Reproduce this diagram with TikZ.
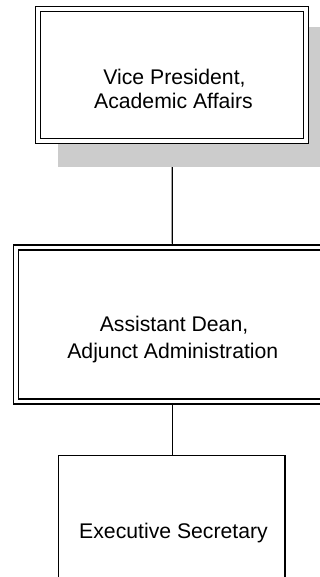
\documentclass[tikz,border=0pt]{standalone}
\usepackage{fontspec}
\setmainfont{Liberation Sans}
\pgfdeclarelayer{bgline}
\pgfdeclarelayer{bgshadow}
\pgfsetlayers{bgline,bgshadow,main}
\definecolor{shadowgray}{RGB}{204,204,204}
\begin{document}
\begin{tikzpicture}[x=1pt,y=-1pt,
  dblbox/.style={draw=black, fill=white, line width=1.1pt, double=white, double distance=3.9pt,
    rectangle, inner sep=0pt},
  plainbox/.style={draw=black, line width=1.1pt, fill=white, rectangle, inner sep=0pt},
  conn/.style={draw=black, line width=1.1pt},
  lbl/.style={anchor=base, inner sep=0pt, font=\fontsize{21.2}{23}\selectfont}
]
\useasboundingbox (0,0) rectangle (320,577);
\clip (0,0) rectangle (320,577);

% boxes
\node[dblbox, minimum width=268pt, minimum height=131.7pt] (vp) at (172.2,74.95) {};
\node[dblbox, minimum width=313pt, minimum height=154pt] (ad) at (172.3,324.5) {};
\node[plainbox, minimum width=226.7pt, minimum height=152.3pt] (es) at (171.65,531.85) {};

% shadow of top box
\begin{pgfonlayer}{bgshadow}
  \fill[shadowgray] ([xshift=20.1pt,yshift=-18.9pt]vp.north west) rectangle ([xshift=25.1pt,yshift=-25.2pt]vp.south east);
\end{pgfonlayer}

% connectors
\begin{pgfonlayer}{bgline}
  \draw[conn] (vp.south) -- (ad.north);
  \draw[conn] (ad.south) -- (ad.south |- es.north);
\end{pgfonlayer}

% texts
\node[lbl] (vp1) at (174.5,85) {Vice President,};
\node[lbl] (vp2) at (173.5,108.3) {Academic Affairs};
\node[lbl] (ad1) at (174,331.7) {Assistant Dean,};
\node[lbl] (ad2) at (172.8,358.3) {Adjunct Administration};
\node[lbl] (es1) at (173.5,538.3) {Executive Secretary};
\end{tikzpicture}
\end{document}
